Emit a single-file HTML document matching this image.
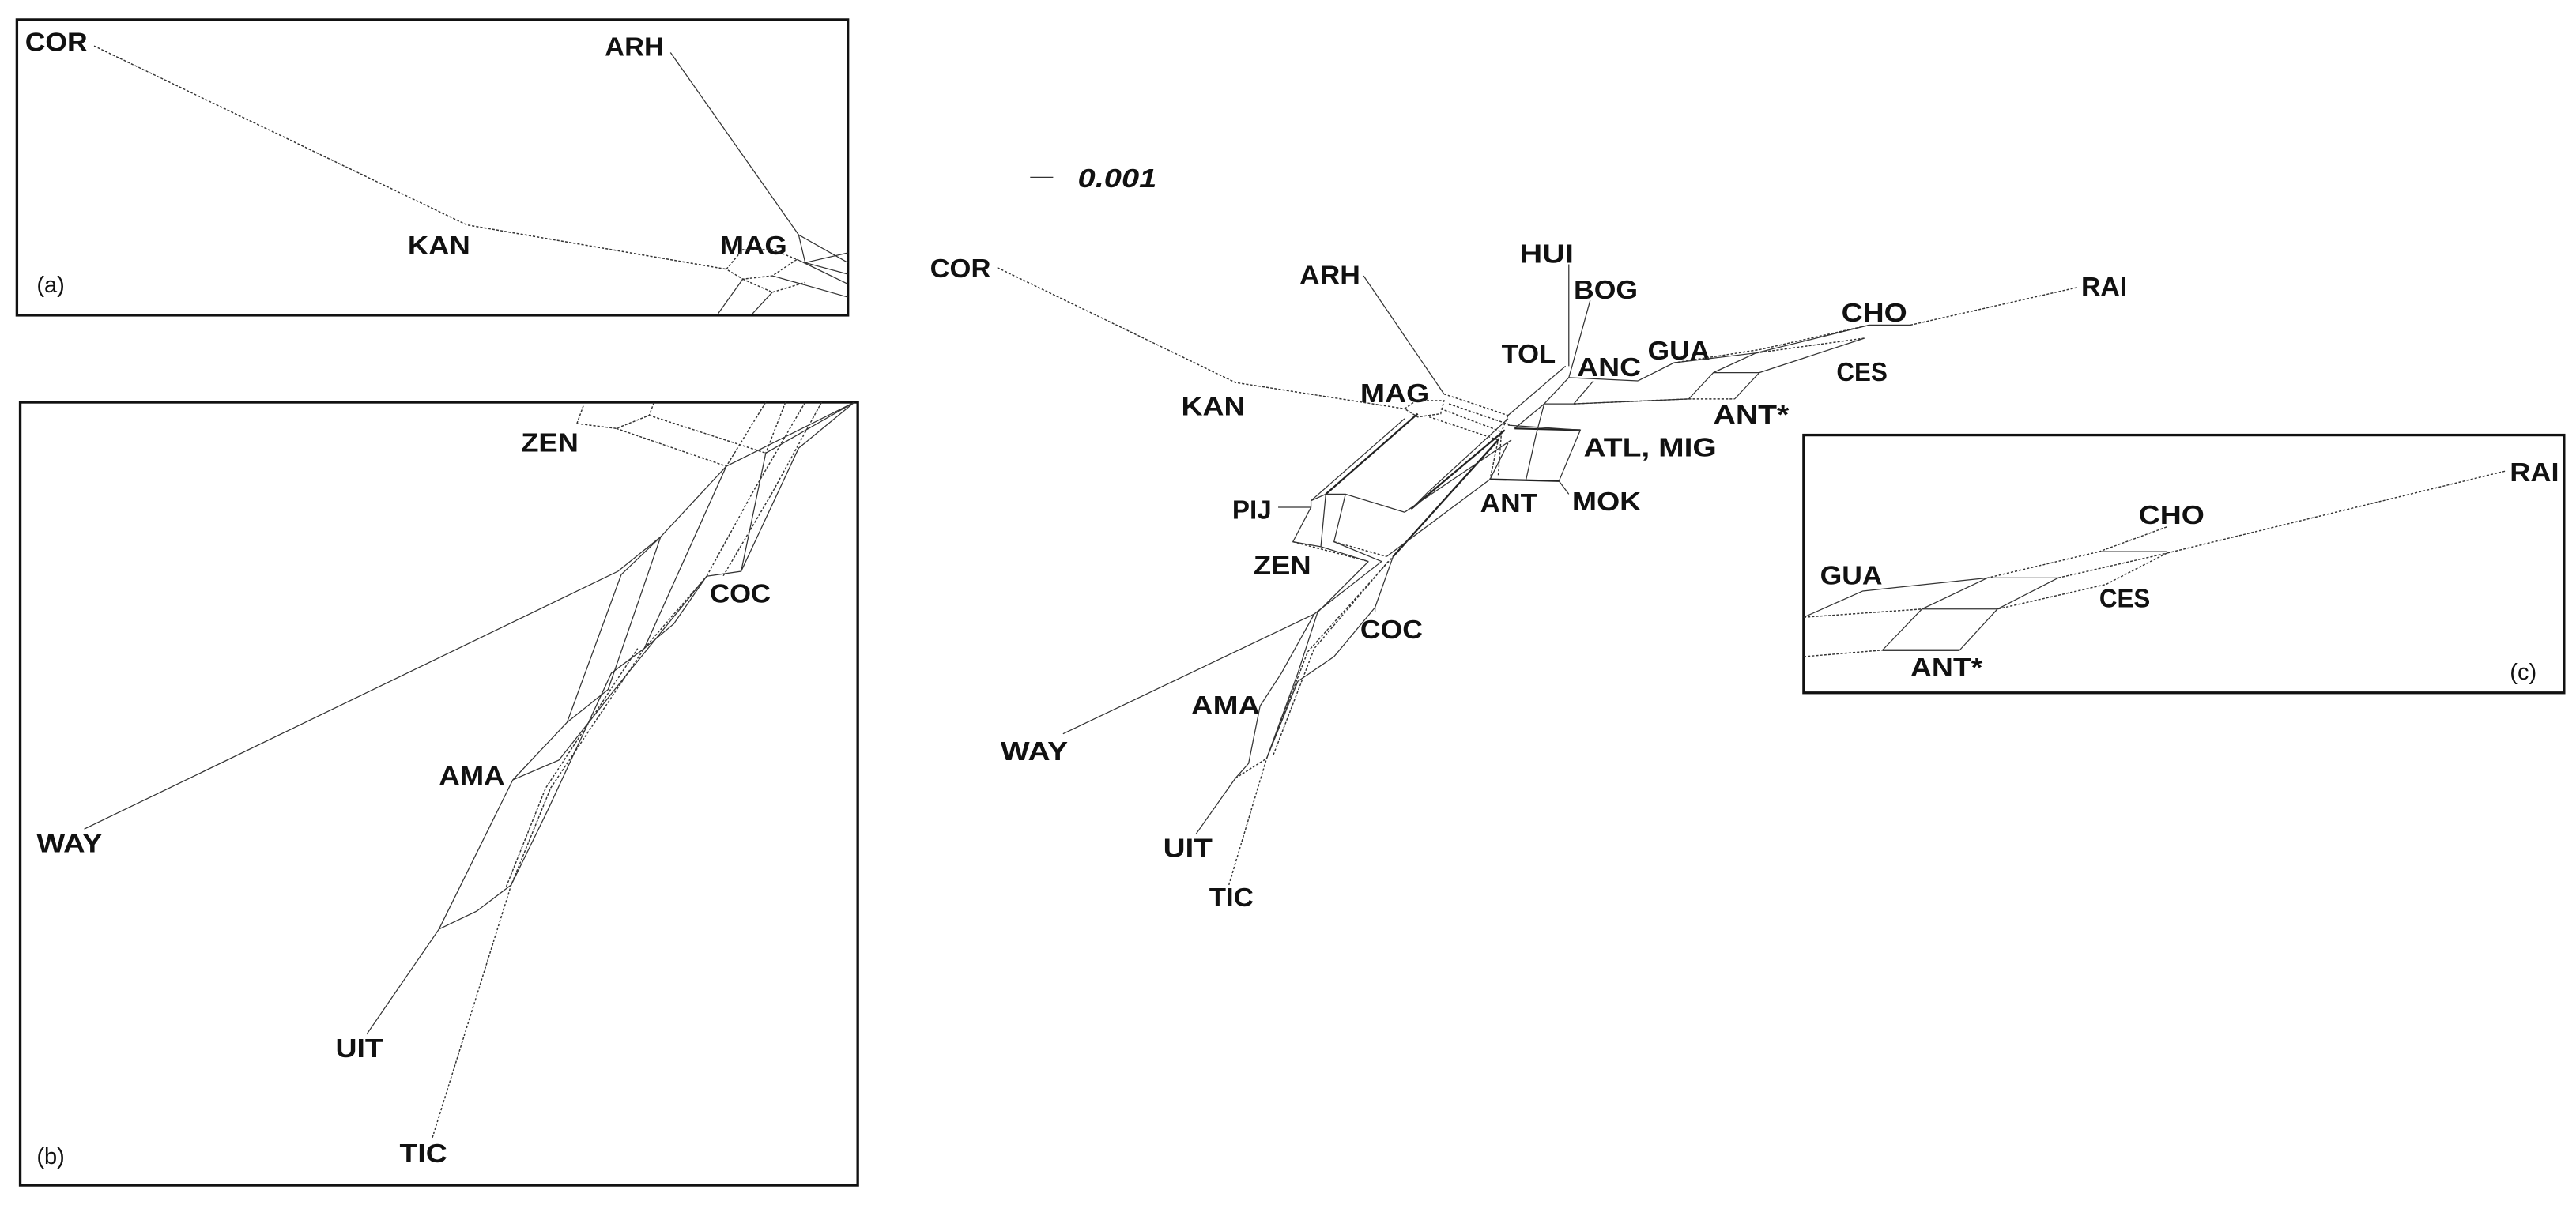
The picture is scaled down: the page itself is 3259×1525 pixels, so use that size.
<!DOCTYPE html>
<html><head><meta charset="utf-8"><style>
html,body{margin:0;padding:0;background:#fff;}
svg{display:block;}
text{font-family:"Liberation Sans",sans-serif;font-weight:bold;font-size:16px;fill:#111;}
.l{fill:none;stroke:#333;stroke-width:0.6;}
.d{fill:none;stroke:#333;stroke-width:0.7;stroke-dasharray:1.5 1;}
.k{fill:none;stroke:#222;stroke-width:1.1;}
.b{fill:none;stroke:#111;stroke-width:1.6;}
</style></head><body>
<svg width="3259" height="1525" viewBox="0 0 1568 734" xmlns="http://www.w3.org/2000/svg">
<rect x="0" y="0" width="1568" height="734" fill="#fff"/>

<!-- Box a -->
<rect class="b" x="10" y="12" width="506" height="180"/>
<text x="15" y="31" textLength="38" lengthAdjust="spacingAndGlyphs">COR</text>
<text x="368" y="34" textLength="36" lengthAdjust="spacingAndGlyphs">ARH</text>
<text x="248" y="155" textLength="38" lengthAdjust="spacingAndGlyphs">KAN</text>
<text x="438" y="155" textLength="41" lengthAdjust="spacingAndGlyphs">MAG</text>
<text x="22" y="178" style="font-weight:normal;font-size:14px">(a)</text>
<path class="d" d="M57 28 L284 137 L442 164"/>
<path class="l" d="M408 32 L486 143"/>
<path class="d" d="M442 164 L452 152 L470 152 L485 158 L470 168 L452 170 Z"/>
<path class="d" d="M452 170 L470 178 L490 172"/>
<path class="l" d="M486 143 L490 160 L516 154 M486 143 L516 160 M490 160 L516 167 M485 158 L516 173 M470 168 L516 181"/>
<path class="l" d="M452 170 L437 191 M470 178 L458 191"/>

<!-- Box b -->
<rect class="b" x="12" y="245" width="510" height="477"/>
<text x="317" y="275" textLength="35" lengthAdjust="spacingAndGlyphs">ZEN</text>
<text x="432" y="367" textLength="37" lengthAdjust="spacingAndGlyphs">COC</text>
<text x="267" y="478" textLength="40" lengthAdjust="spacingAndGlyphs">AMA</text>
<text x="22" y="519" textLength="40" lengthAdjust="spacingAndGlyphs">WAY</text>
<text x="204" y="644" textLength="29" lengthAdjust="spacingAndGlyphs">UIT</text>
<text x="243" y="708" textLength="29" lengthAdjust="spacingAndGlyphs">TIC</text>
<text x="22" y="709" style="font-weight:normal;font-size:14px">(b)</text>
<path class="d" d="M351 258 L355 247 M351 258 L375 261 L395 253 L398 245 M395 253 L466 276 M375 261 L442 284"/>
<path class="l" d="M520 245 L442 284 L402 327 L378 350 M520 245 L466 276 L451 348 L430 351 M520 245 L486 273 L451 348"/>
<path class="d" d="M466 245 L442 284 M478 245 L466 276 M490 245 L458 300 L430 351 M500 245 L470 300 L440 351"/>
<path class="l" d="M51 505 L376 348 L402 327"/>
<path class="l" d="M378 350 L345 440 L312 475 L267 566 L223 630"/>
<path class="l" d="M402 327 L370 420 L345 440 M442 284 L392 395 L372 410 L333 494 L311 539 L290 555 L267 566"/>
<path class="l" d="M430 351 L410 380 L392 395 M430 351 L378 415 L340 463 L312 475"/>
<path class="d" d="M263 693 L311 539 L335 480 L392 395 L430 351 M308 540 L332 480 L388 395"/>

<!-- Box c -->
<rect class="b" x="1098" y="265" width="463" height="157"/>
<text x="1528" y="293" textLength="30" lengthAdjust="spacingAndGlyphs">RAI</text>
<text x="1302" y="319" textLength="40" lengthAdjust="spacingAndGlyphs">CHO</text>
<text x="1108" y="356" textLength="38" lengthAdjust="spacingAndGlyphs">GUA</text>
<text x="1278" y="370" textLength="31" lengthAdjust="spacingAndGlyphs">CES</text>
<text x="1163" y="412" textLength="44" lengthAdjust="spacingAndGlyphs">ANT*</text>
<text x="1528" y="414" style="font-weight:normal;font-size:14px">(c)</text>
<path class="d" d="M1525 287 L1319 337 M1319 321 L1278 336 L1210 352"/>
<path class="l" d="M1278 336 L1319 336 M1098 376 L1134 360 L1210 352 L1253 352 M1210 352 L1170 371 L1146 396 M1253 352 L1216 371 L1193 396 M1170 371 L1216 371"/>
<path class="d" d="M1253 352 L1319 337 L1282 356 L1216 371 M1098 376 L1170 371 M1098 400 L1146 396"/>
<path class="k" d="M1146 396 L1193 396"/>

<!-- Main network -->
<path class="l" d="M627 108 L641 108"/>
<text x="656" y="114" style="font-style:italic" textLength="48" lengthAdjust="spacingAndGlyphs">0.001</text>

<text x="566" y="169" textLength="37" lengthAdjust="spacingAndGlyphs">COR</text>
<text x="791" y="173" textLength="37" lengthAdjust="spacingAndGlyphs">ARH</text>
<text x="925" y="160" textLength="33" lengthAdjust="spacingAndGlyphs">HUI</text>
<text x="958" y="182" textLength="39" lengthAdjust="spacingAndGlyphs">BOG</text>
<text x="914" y="221" textLength="33" lengthAdjust="spacingAndGlyphs">TOL</text>
<text x="960" y="229" textLength="39" lengthAdjust="spacingAndGlyphs">ANC</text>
<text x="1003" y="219" textLength="38" lengthAdjust="spacingAndGlyphs">GUA</text>
<text x="1121" y="196" textLength="40" lengthAdjust="spacingAndGlyphs">CHO</text>
<text x="1267" y="180" textLength="28" lengthAdjust="spacingAndGlyphs">RAI</text>
<text x="1118" y="232" textLength="31" lengthAdjust="spacingAndGlyphs">CES</text>
<text x="719" y="253" textLength="39" lengthAdjust="spacingAndGlyphs">KAN</text>
<text x="828" y="245" textLength="42" lengthAdjust="spacingAndGlyphs">MAG</text>
<text x="1043" y="258" textLength="46" lengthAdjust="spacingAndGlyphs">ANT*</text>
<text x="964" y="278" textLength="81" lengthAdjust="spacingAndGlyphs">ATL, MIG</text>
<text x="957" y="311" textLength="42" lengthAdjust="spacingAndGlyphs">MOK</text>
<text x="901" y="312" textLength="35" lengthAdjust="spacingAndGlyphs">ANT</text>
<text x="750" y="316" textLength="24" lengthAdjust="spacingAndGlyphs">PIJ</text>
<text x="763" y="350" textLength="35" lengthAdjust="spacingAndGlyphs">ZEN</text>
<text x="828" y="389" textLength="38" lengthAdjust="spacingAndGlyphs">COC</text>
<text x="725" y="435" textLength="42" lengthAdjust="spacingAndGlyphs">AMA</text>
<text x="609" y="463" textLength="41" lengthAdjust="spacingAndGlyphs">WAY</text>
<text x="708" y="522" textLength="30" lengthAdjust="spacingAndGlyphs">UIT</text>
<text x="736" y="552" textLength="27" lengthAdjust="spacingAndGlyphs">TIC</text>

<path class="d" d="M607 163 L752 233 L855 249"/>
<path class="l" d="M830 168 L879 240"/>
<path class="d" d="M855 249 L862 244 L879 244 L877 252 L863 254 Z M879 240 L918 253 M877 249 L914 263 M870 254 L912 268 M882 246 L920 259"/>
<path class="l" d="M955 161 L955 223 M968 183 L957 223 M953 223 L918 253 M957 223 L955 230 L997 232"/>
<path class="l" d="M955 230 L940 246 L958 246 L970 232 M958 246 L1028 243 M940 246 L922 261"/>
<path class="d" d="M958 246 L1028 243 L1056 243"/>
<path class="l" d="M1056 243 L1071 227 L1043 227 L1028 243 M997 232 L1019 221 L1069 215 L1138 198 M1071 227 L1135 206 M1043 227 L1069 215 M1138 198 L1163 198"/>
<path class="d" d="M1163 198 L1265 175 M1069 215 L1135 206 M1019 221 L1071 213 L1138 198"/>
<path class="k" d="M922 261 L962 262 M907 292 L949 293"/>
<path class="l" d="M918 259 L962 262 L949 293 L955 301 M918 270 L907 292 M929 292 L935 265 M940 246 L935 265"/>
<path class="d" d="M918 253 L912 268 L907 292 M914 263 L912 290"/>
<path class="k" d="M863 252 L807 301 M916 262 L859 310 M912 268 L848 339"/>
<path class="l" d="M855 255 L798 305 M920 268 L855 312 M907 292 L844 339 M918 255 L869 300 L859 310"/>
<path class="l" d="M778 309 L798 309 L798 305 L807 301 L819 301 L855 312 M798 309 L787 330 L804 333 L833 342 M807 301 L804 333 M819 301 L812 330 L841 342"/>
<path class="d" d="M787 330 L833 342 M812 330 L844 339"/>
<path class="l" d="M647 447 L800 374 L841 342 M833 342 L802 373 M848 339 L837 370 L837 373"/>
<path class="l" d="M800 374 L780 410 L767 430 L760 465 L752 474 L728 508 M802 373 L790 410 L771 462 M837 370 L812 400 L790 415 L771 462"/>
<path class="d" d="M748 539 L771 462 L796 397 L848 339 M845 342 L800 395 L775 460 M752 474 L771 462"/>
</svg>
</body></html>
